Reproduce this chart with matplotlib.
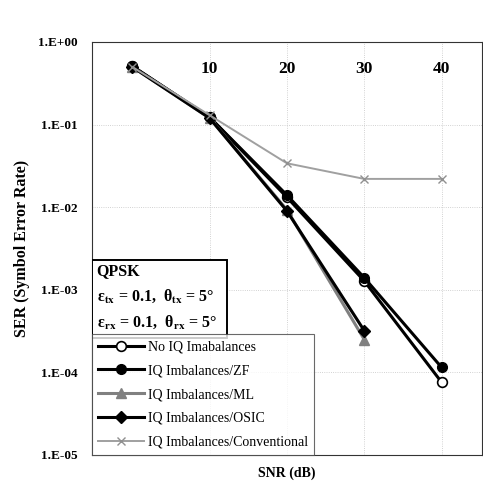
import matplotlib
matplotlib.use("Agg")
import matplotlib.pyplot as plt
from matplotlib.ticker import FixedLocator, FuncFormatter, NullLocator
from matplotlib.patches import Rectangle

plt.rcParams['font.family'] = ['Liberation Serif', 'DejaVu Serif']
plt.rcParams['mathtext.fontset'] = 'stix'

snr = [0, 10, 20, 30, 40]
no_iq = [0.51, 0.123, 0.0132, 1.28e-3, 7.6e-5]
zf = [0.51, 0.123, 0.0140, 1.40e-3, 1.15e-4]
ml_snr = [0, 10, 20, 30]
ml = [0.50, 0.120, 0.0093, 2.5e-4]
osic = [0.50, 0.120, 0.0090, 3.2e-4]
conv = [0.50, 0.130, 0.034, 0.022, 0.022]
xticks = [10, 20, 30, 40]
yticks = [1e0, 1e-1, 1e-2, 1e-3, 1e-4, 1e-5]
ylabels = ['1.E+00', '1.E-01', '1.E-02', '1.E-03', '1.E-04', '1.E-05']

fig = plt.figure(figsize=(4.83, 4.94), dpi=100)
ax = fig.add_axes([0.1905, 0.079, 0.807, 0.836])

l1, = ax.plot(snr, no_iq, color='black', lw=2.2, marker='o', ms=7, mfc='white', mec='black', mew=1.2,
              label='No IQ Imabalances')
l2, = ax.plot(snr, zf, color='black', lw=2.2, marker='o', ms=7, mfc='black', mec='black',
              label='IQ Imbalances/ZF')
l3, = ax.plot(ml_snr, ml, color='#808080', lw=2.2, marker='^', ms=7, mfc='#808080', mec='#808080',
              label='IQ Imbalances/ML')
l4, = ax.plot(ml_snr, osic, color='black', lw=2.2, marker='D', ms=6, mfc='black', mec='black',
              label='IQ Imbalances/OSIC')
l5, = ax.plot(snr, conv, color='#a0a0a0', lw=1.4, marker='x', ms=6, mfc='#a0a0a0', mec='#909090',
              label='IQ Imbalances/Conventional')

ax.set_yscale('log')
ax.set_ylim(1e-5, 1e0)
ax.set_xlim(-5.2, 45.2)
ax.yaxis.set_major_locator(FixedLocator(yticks))
ax.yaxis.set_major_formatter(FuncFormatter(lambda v, p: ylabels[yticks.index(min(yticks, key=lambda t: abs(t - v)))]))
ax.yaxis.set_minor_locator(NullLocator())
ax.set_xticks(xticks)
ax.set_xticklabels([str(t) for t in xticks])
ax.tick_params(axis='x', which='both', top=False, bottom=False, labelbottom=False, labeltop=True,
               pad=-29, labelsize=12.5)
for lab in ax.get_xticklabels():
    lab.set_fontweight('bold')
ax.tick_params(axis='y', length=0, labelsize=9.5, pad=10)
for lab in ax.get_yticklabels():
    lab.set_fontweight('bold')

ax.grid(True, which='major', axis='both', color='#c4c4c4', lw=0.6, ls=':')
for s in ax.spines.values():
    s.set_linewidth(0.8)
    s.set_color('#333333')

ax.set_xlabel('SNR (dB)', fontsize=10, fontweight='bold', labelpad=8)
ax.set_ylabel('SER (Symbol Error Rate)', fontsize=11.5, fontweight='bold', labelpad=6)

leg = ax.legend(handles=[l1, l2, l3, l4, l5], loc='lower left', bbox_to_anchor=(0.0, 0.0),
                fontsize=10, frameon=True, fancybox=False, edgecolor='#444444',
                borderaxespad=0.0, handlelength=3.3, labelspacing=0.78, handletextpad=0.25,
                borderpad=0.45)
leg.get_frame().set_linewidth(0.8)

ax.add_patch(Rectangle((0.0, 0.283), 0.346, 0.189, transform=ax.transAxes, fc='white', ec='black',
                       lw=1.4, zorder=5))
lines = ['QPSK',
         r'ε$_{\mathbf{tx}}$ = 0.1,  θ$_{\mathbf{tx}}$ = 5°',
         r'ε$_{\mathbf{rx}}$ = 0.1,  θ$_{\mathbf{rx}}$ = 5°']
for yy, t in zip([0.446, 0.383, 0.320], lines):
    ax.text(0.012, yy, t, transform=ax.transAxes, fontsize=11.5, fontweight='bold',
            va='center', ha='left', zorder=6)

fig.savefig('out.png', dpi=100)
